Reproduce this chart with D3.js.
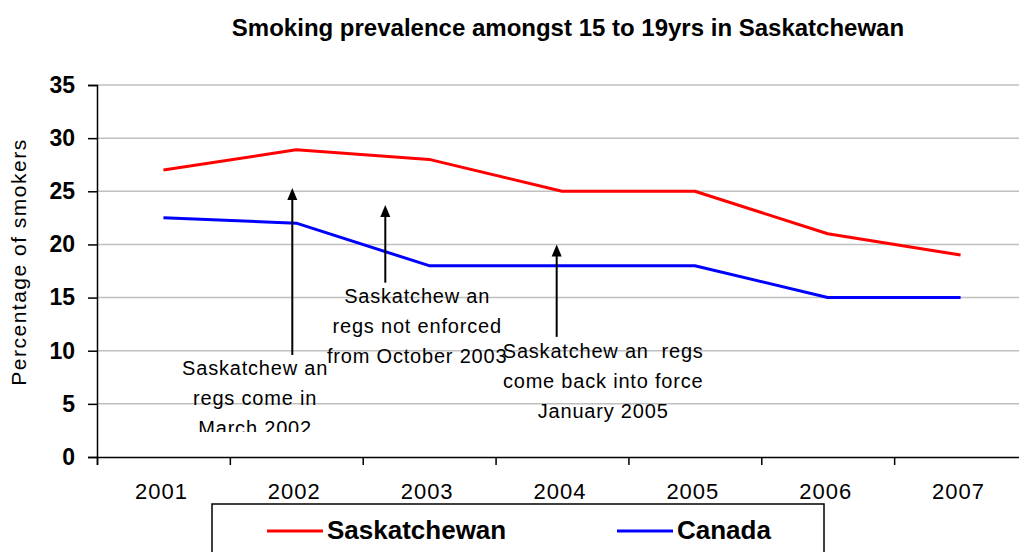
<!DOCTYPE html>
<html>
<head>
<meta charset="utf-8">
<script src="https://cdn.jsdelivr.net/npm/d3@7"></script>
<style>
    body { margin: 0; background: #fff; }
    svg { display: block; font-family: "Liberation Sans", Arial, sans-serif; }
</style>
</head>
<body>
<div id="chart"></div>
<script>
// Chart data
const years = [2001, 2002, 2003, 2004, 2005, 2006, 2007];
const saskatchewan = [27, 28.9, 28, 25, 25, 21, 19];
const canada = [22.5, 22, 18, 18, 18, 15, 15];
const yTicks = [0, 5, 10, 15, 20, 25, 30, 35];

// Annotations: arrow at x (year position), from value to value, label lines
const notes = [
    { x: 2001.97, from: 9.6, to: 25.3, tx: 2001.69, ty: 7.7, lines: ["Saskatchew an", "regs come in", "March 2002"] },
    { x: 2002.67, from: 16.4, to: 23.7, tx: 2002.91, ty: 14.5, lines: ["Saskatchew an", "regs not enforced", "from October 2003"] },
    { x: 2003.96, from: 11.3, to: 20.0, tx: 2004.31, ty: 9.3, lines: ["Saskatchew an  regs", "come back into force", "January 2005"] }
];

const width = 1019, height = 552;
const margin = { top: 85, right: -8, bottom: 95, left: 97 };

const svg = d3.select('#chart')
    .append('svg')
    .attr('width', width)
    .attr('height', height);

const xScale = d3.scaleLinear()
    .domain([years[0] - 0.5, years[years.length - 1] + 0.5])
    .range([margin.left, width - margin.right]);

const yScale = d3.scaleLinear()
    .domain([0, 35])
    .range([height - margin.bottom, margin.top]);

// Gridlines
svg.append('g')
    .selectAll('line')
    .data(yTicks.filter(d => d > 0))
    .enter()
    .append('line')
    .attr('x1', margin.left)
    .attr('x2', width - margin.right)
    .attr('y1', d => yScale(d))
    .attr('y2', d => yScale(d))
    .attr('stroke', '#c0c0c0')
    .attr('stroke-width', 1.5);

// Y axis
const yAxis = d3.axisLeft(yScale).tickValues(yTicks).tickSize(9).tickPadding(13);
const yG = svg.append('g')
    .attr('transform', `translate(${margin.left},0)`)
    .call(yAxis);
yG.select('.domain').attr('stroke', '#000').attr('stroke-width', 1.5);
yG.selectAll('.tick line').attr('stroke', '#000').attr('stroke-width', 1.5);
yG.selectAll('.tick text')
    .attr('font-size', '23px')
    .attr('font-weight', 'bold')
    .attr('fill', '#000')
    .attr('font-family', '"Liberation Sans", Arial, sans-serif');

// X axis: ticks on category boundaries, labels at centres
const boundaries = d3.range(years[0] - 0.5, years[years.length - 1] + 1, 1);
const xAxis = d3.axisBottom(xScale).tickValues(boundaries).tickSize(8).tickFormat('');
const xG = svg.append('g')
    .attr('transform', `translate(0,${yScale(0)})`)
    .call(xAxis);
xG.select('.domain').attr('stroke', '#000').attr('stroke-width', 1.5);
xG.selectAll('.tick line').attr('stroke', '#000').attr('stroke-width', 1.5);

svg.append('g')
    .selectAll('text')
    .data(years)
    .enter()
    .append('text')
    .attr('x', d => xScale(d) - 2)
    .attr('y', yScale(0) + 42)
    .attr('text-anchor', 'middle')
    .attr('font-size', '22px')
    .attr('letter-spacing', '1px')
    .attr('fill', '#000')
    .text(d => d);

// Series lines
const line = d3.line()
    .x((d, i) => xScale(years[i]))
    .y(d => yScale(d));

[[saskatchewan, '#ff0000'], [canada, '#0000ff']].forEach(([values, color]) => {
    svg.append('path')
        .datum(values)
        .attr('d', line)
        .attr('fill', 'none')
        .attr('stroke', color)
        .attr('stroke-width', 3)
        .attr('stroke-linejoin', 'round');
});

// Annotations
svg.append('defs').append('clipPath')
    .attr('id', 'noteClip')
    .append('rect')
    .attr('x', 0).attr('y', 0)
    .attr('width', width).attr('height', 432);

const noteG = svg.append('g').attr('clip-path', 'url(#noteClip)');

notes.forEach(n => {
    const ax = xScale(n.x);
    const yTip = yScale(n.to);
    noteG.append('line')
        .attr('x1', ax).attr('x2', ax)
        .attr('y1', yScale(n.from)).attr('y2', yTip + 8)
        .attr('stroke', '#000')
        .attr('stroke-width', 2);
    noteG.append('path')
        .attr('d', `M${ax},${yTip} L${ax - 5},${yTip + 12} L${ax + 5},${yTip + 12} Z`)
        .attr('fill', '#000');

    const t = noteG.append('text')
        .attr('text-anchor', 'middle')
        .attr('font-size', '20px')
        .attr('letter-spacing', '0.8px')
        .attr('fill', '#000')
        .style('white-space', 'pre');
    n.lines.forEach((s, i) => {
        t.append('tspan')
            .attr('x', xScale(n.tx))
            .attr('y', yScale(n.ty) + i * 30)
            .text(s);
    });
});

// Title
svg.append('text')
    .attr('x', 568)
    .attr('y', 36)
    .attr('text-anchor', 'middle')
    .attr('font-size', '24px')
    .attr('font-weight', 'bold')
    .attr('fill', '#000')
    .text('Smoking prevalence amongst 15 to 19yrs in Saskatchewan');

// Y axis title
svg.append('text')
    .attr('transform', `translate(26,${(yScale(0) + yScale(35)) / 2 - 9}) rotate(-90)`)
    .attr('text-anchor', 'middle')
    .attr('font-size', '21px')
    .attr('letter-spacing', '1.5px')
    .attr('fill', '#000')
    .text('Percentage of smokers');

// Legend
const legend = svg.append('g');
legend.append('rect')
    .attr('x', 212).attr('y', 504)
    .attr('width', 612).attr('height', 80)
    .attr('fill', '#fff')
    .attr('stroke', '#000')
    .attr('stroke-width', 1.5);

[['Saskatchewan', '#ff0000', 267], ['Canada', '#0000ff', 617]].forEach(([name, color, lx]) => {
    legend.append('line')
        .attr('x1', lx).attr('x2', lx + 56)
        .attr('y1', 531).attr('y2', 531)
        .attr('stroke', color)
        .attr('stroke-width', 3);
    legend.append('text')
        .attr('x', lx + 60)
        .attr('y', 539)
        .attr('font-size', '26px')
        .attr('font-weight', 'bold')
        .attr('fill', '#000')
        .text(name);
});
</script>
</body>
</html>
